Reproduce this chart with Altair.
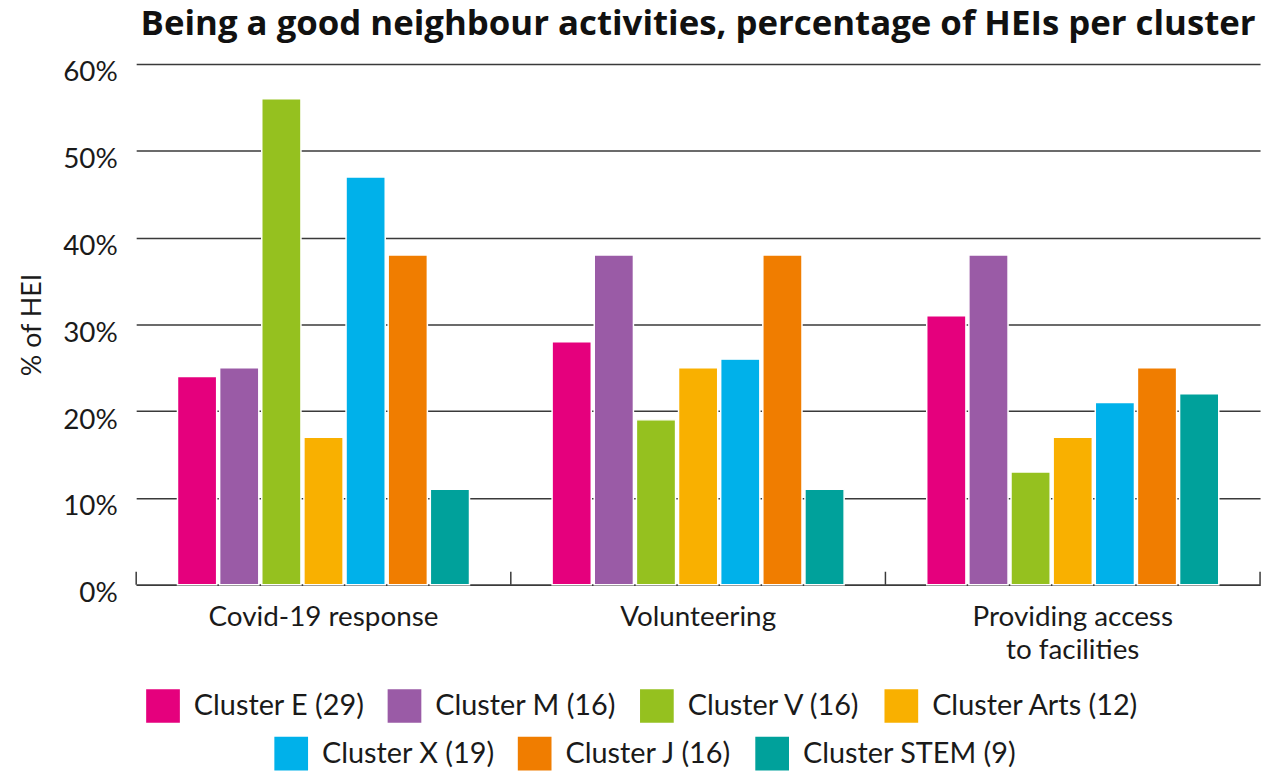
import altair as alt
import pandas as pd

activities = ["Covid-19 response", "Volunteering", "Providing access to facilities"]
clusters = ["Cluster E (29)", "Cluster M (16)", "Cluster V (16)", "Cluster Arts (12)",
            "Cluster X (19)", "Cluster J (16)", "Cluster STEM (9)"]
colors = ["#E5007D", "#9A5BA6", "#95C11F", "#F9B000", "#00B1EA", "#F07D00", "#00A19B"]

covid = [24, 25, 56, 17, 47, 38, 11]
volunteering = [28, 38, 19, 25, 26, 38, 11]
facilities = [31, 38, 13, 17, 21, 25, 22]

y_ticks = [0, 0.1, 0.2, 0.3, 0.4, 0.5, 0.6]

rows = []
for act, vals in zip(activities, [covid, volunteering, facilities]):
    for c, v in zip(clusters, vals):
        rows.append({"activity": act, "cluster": c, "value": v / 100})
df = pd.DataFrame(rows)
df_act = pd.DataFrame({"activity": activities})

row1 = clusters[:4]
row2 = clusters[4:]

FONT = "Lato"
DARK = "#3a3a3a"

x_enc = alt.X(
    "activity:N", sort=activities,
    scale=alt.Scale(paddingInner=0, paddingOuter=0),
    axis=alt.Axis(
        title=None, labelAngle=0, labelFontSize=28, labelFont=FONT, labelColor="#1a1a1a",
        labelPadding=19, labelLineHeight=33, labelLimit=500, ticks=False, domain=True,
        domainColor=DARK, domainWidth=1.5, grid=False,
        labelExpr="datum.value == 'Providing access to facilities' ? ['Providing access', 'to facilities'] : datum.label",
    ),
)
xoff = alt.XOffset("cluster:N", sort=clusters,
                   scale=alt.Scale(domain=clusters, paddingInner=0.07, paddingOuter=0.98))
y_enc = alt.Y(
    "value:Q",
    scale=alt.Scale(domain=[0, 0.6], nice=False),
    axis=alt.Axis(
        title="% of HEI", titleFont=FONT, titleFontSize=27, titleFontWeight="normal",
        titleColor="#1a1a1a", titlePadding=16,
        values=y_ticks, format=".0%", labelFontSize=28, labelFont=FONT, labelColor="#1a1a1a",
        labelPadding=19, labelOffset=9, ticks=False, domain=False,
        grid=True, gridColor=DARK, gridWidth=1.5,
    ),
)

bars1 = alt.Chart(df).transform_filter(
    alt.FieldOneOfPredicate(field="cluster", oneOf=row1)
).mark_bar(stroke="white", strokeWidth=1.5).encode(
    x=x_enc, xOffset=xoff, y=y_enc,
    color=alt.Color("cluster:N", sort=row1,
                    scale=alt.Scale(domain=row1, range=colors[:4]),
                    legend=alt.Legend(orient="none", legendX=10, legendY=629, direction="horizontal",
                                      title=None)),
)
bars2 = alt.Chart(df).transform_filter(
    alt.FieldOneOfPredicate(field="cluster", oneOf=row2)
).mark_bar(stroke="white", strokeWidth=1.5).encode(
    x=alt.X("activity:N", sort=activities), xOffset=alt.XOffset("cluster:N", sort=clusters),
    y=alt.Y("value:Q"),
    color=alt.Color("cluster:N", sort=row2,
                    scale=alt.Scale(domain=row2, range=colors[4:]),
                    legend=alt.Legend(orient="none", legendX=139, legendY=677, direction="horizontal",
                                      title=None)),
)

ticks_start = alt.Chart(df_act).mark_rule(color=DARK, strokeWidth=1.5).encode(
    x=alt.X("activity:N", sort=activities, bandPosition=0),
    y=alt.datum(0), y2=alt.datum(0.015),
)
ticks_end = alt.Chart(df_act).transform_filter(
    alt.datum.activity == activities[-1]
).mark_rule(color=DARK, strokeWidth=1.5).encode(
    x=alt.X("activity:N", sort=activities, bandPosition=1),
    y=alt.datum(0), y2=alt.datum(0.015),
)

chart = alt.layer(bars1, bars2, ticks_start, ticks_end).resolve_scale(
    color="independent"
).properties(
    width=1131, height=524,
    padding={"left": 129, "top": 54, "right": 8, "bottom": 185},
    autosize=alt.AutoSizeParams(type="none"),
    title=alt.Title(
        "Being a good neighbour activities, percentage of HEIs per cluster",
        font="Open Sans", fontSize=35, fontWeight="bold", color="#111111",
        anchor="middle", baseline="alphabetic", offset=20, dy=31,
    ),
).configure_view(stroke=None).configure_legend(
    labelFont=FONT, labelFontSize=29, labelColor="#1a1a1a", symbolType="square",
    symbolSize=1150, symbolStrokeWidth=0, symbolOpacity=1, labelOffset=14,
    columnPadding=23, padding=0, labelLimit=400,
)

chart.save("out.html", embed_options={"renderer": "svg", "actions": False})
